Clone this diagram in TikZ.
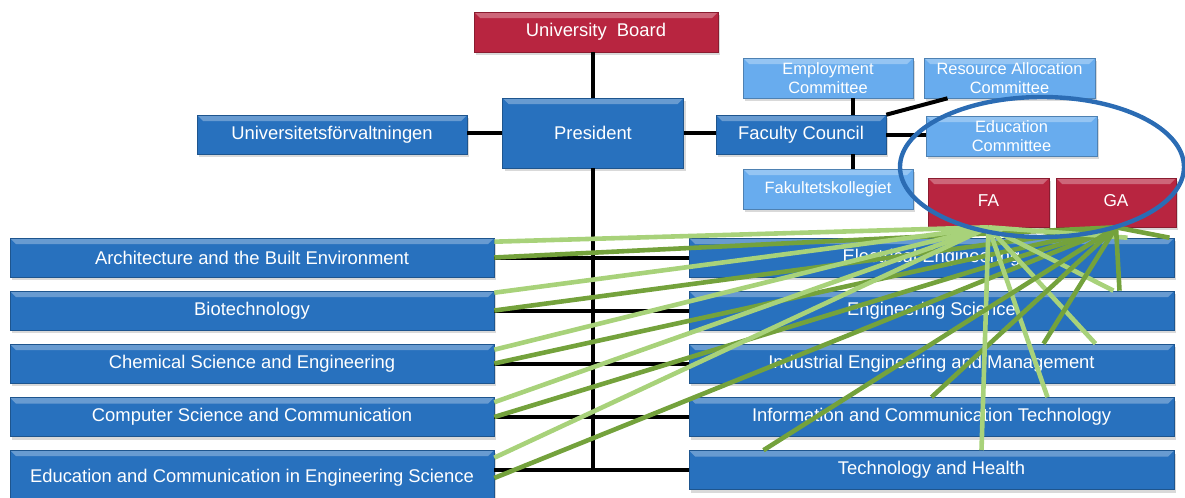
\documentclass[tikz,border=0pt]{standalone}
\usepackage{fontspec}
\setmainfont{Liberation Sans}
\usepackage{tikz}
\usetikzlibrary{shadows}

\definecolor{boxblue}{RGB}{40,113,190}
\definecolor{paleblue}{RGB}{104,172,238}
\definecolor{boardred}{RGB}{184,37,64}
\definecolor{leafgreen}{RGB}{168,210,122}
\definecolor{mossgreen}{RGB}{116,162,60}
\definecolor{ringblue}{RGB}{43,108,180}

\tikzset{
  bevel/.style={rectangle, inner sep=0pt, fill=#1, draw=#1!75!black, line width=0.3pt,
    text=white, align=center,
    drop shadow={shadow xshift=1pt, shadow yshift=-1.5pt, opacity=0.3},
    path picture={\fill[white, opacity=0.3] (path picture bounding box.north west)
      -- (path picture bounding box.north east) -- ([xshift=-3pt,yshift=-3pt]path picture bounding box.north east)
      -- ([xshift=3pt,yshift=-3pt]path picture bounding box.north west) -- cycle;}},
  unit/.style={bevel=boxblue, font=\fontsize{9.2}{11}\selectfont},
  committee/.style={bevel=paleblue, font=\fontsize{8.2}{9.5}\selectfont, minimum width=85pt, minimum height=20pt},
  assembly/.style={bevel=boardred, font=\fontsize{8.6}{10}\selectfont},
  school/.style={unit, minimum width=242pt, minimum height=19.5pt},
  link/.style={line width=2pt, black},
  fatie/.style={line width=2.3pt, leafgreen},
  gatie/.style={line width=2.3pt, mossgreen},
  ring/.style={line width=2.2pt, ringblue}
}

\begin{document}
\begin{tikzpicture}[x=0.5pt, y=-0.5pt]
    \useasboundingbox (0,0) rectangle (1185,498);

    % top of the organisation
    \node[assembly, font=\fontsize{9.2}{11}\selectfont, minimum width=122pt, minimum height=20pt] (board) at (596,32) {University\ \ Board};
    \node[unit, minimum width=90.5pt, minimum height=35pt] (president) at (593,133) {President};
    \node[unit, minimum width=135pt, minimum height=19.5pt] (admin) at (332,134.5) {Universitetsförvaltningen};
    \node[unit, minimum width=85pt, minimum height=19.5pt] (council) at (801,134.5) {Faculty Council};

    % bodies around the faculty council
    \node[committee] (employ) at (828,78) {Employment\\Committee};
    \node[committee, minimum width=85.5pt] (resource) at (1009.5,78) {Resource Allocation\\Committee};
    \node[committee, minimum width=85.5pt] (educom) at (1011.5,136) {Education\\Committee};
    \node[committee] (kollegiet) at (828,189) {Fakultetskollegiet};
    \node[assembly, minimum width=60.5pt, minimum height=24.5pt, text depth=2pt] (fa) at (988.5,202.5) {FA};
    \node[assembly, minimum width=60pt, minimum height=24.5pt, text depth=2pt] (ga) at (1116,202.5) {GA};

    % schools, left column
    \node[school] (l1) at (252,257.5) {Architecture and the Built Environment};
    \node[school] (l2) at (252,310.5) {Biotechnology};
    \node[school] (l3) at (252,363.5) {Chemical Science and Engineering};
    \node[school] (l4) at (252,417) {Computer Science and Communication};
    \node[school, minimum height=28pt] (l5) at (252,478) {Education and Communication in Engineering Science};

    % schools, right column
    \node[school, minimum width=242.5pt] (r1) at (931.5,257.5) {Electrical Engineering};
    \node[school, minimum width=242.5pt] (r2) at (931.5,310.5) {Engineering Science};
    \node[school, minimum width=242.5pt] (r3) at (931.5,363.5) {Industrial Engineering and Management};
    \node[school, minimum width=242.5pt] (r4) at (931.5,417) {Information and Communication Technology};
    \node[school, minimum width=242.5pt] (r5) at (931.5,470) {Technology and Health};

    % line of command
    \draw[link] (president.north) -- (president.north |- board.south);
    \draw[link] (president.south) -- (president.south |- r5.west);
    \draw[link] (president.west) -- (president.west -| admin.east);
    \draw[link] (president.east) -- (president.east -| council.west);
    \foreach \s in {1,...,5}
        \draw[link] (l\s.east |- r\s.west) -- (r\s.west);

    \draw[link] ([xshift=26pt]council.north) -- ([xshift=26pt]council.north |- employ.south);
    \draw[link] ([xshift=26pt]council.south) -- ([xshift=26pt]council.south |- kollegiet.north);
    \draw[link] (council.east) -- (council.east -| educom.west);
    \draw[link] (council.north east) -- ([xshift=-31pt]resource.south);

    % FA and GA reach every school
    \foreach \s/\d in {1/2,2/1,3/3,4/2.5,5/4}{
        \draw[fatie] (fa.south) -- ([yshift=-\d pt]l\s.north east);
        \draw[gatie] (ga.south) -- (l\s.east);
    }
    \foreach \s/\a/\b in {1/98/119,2/91/94,3/82/56,4/58/0,5/25/-84}{
        \draw[fatie] (fa.south) -- ([xshift=\a pt]r\s.north);
        \draw[gatie] (ga.south) -- ([xshift=\b pt]r\s.north);
    }

    \draw[ring] (1042,167) ellipse [x radius=71pt, y radius=35pt];
\end{tikzpicture}
\end{document}
